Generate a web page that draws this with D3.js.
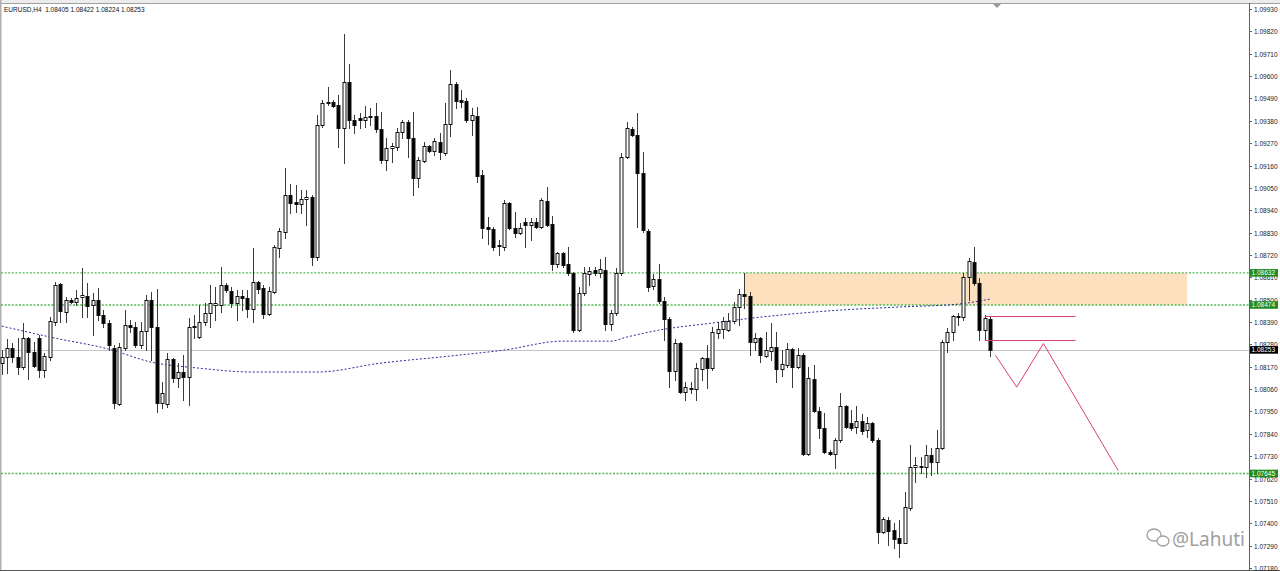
<!DOCTYPE html>
<html><head><meta charset="utf-8">
<script src="https://cdn.jsdelivr.net/npm/d3@7"></script>
<style>html,body{margin:0;padding:0;background:#fff;overflow:hidden}svg{display:block}</style>
</head><body><svg id="c" width="1280" height="571"></svg>
<script>
const title = "EURUSD,H4  1.08405 1.08422 1.08224 1.08253";
const open = [1.08188,1.08218,1.08262,1.08218,1.08169,1.08311,1.08242,1.08311,1.08154,1.08218,
1.08390,1.08576,1.08439,1.08498,1.08488,1.08513,1.08518,1.08473,1.08498,1.08424,
1.08385,1.08262,1.07986,1.08262,1.08375,1.08366,1.08276,1.08345,1.08498,1.08366,
1.07991,1.07986,1.08208,1.08115,1.08144,1.08120,1.08366,1.08316,1.08390,1.08434,
1.08473,1.08473,1.08571,1.08542,1.08483,1.08518,1.08508,1.08454,1.08586,1.08557,
1.08429,1.08537,1.08754,1.08832,1.09014,1.08980,1.08970,1.08995,1.09005,1.08710,
1.09359,1.09467,1.09472,1.09457,1.09345,1.09570,1.09384,1.09394,1.09384,1.09398,
1.09403,1.09340,1.09187,1.09246,1.09251,1.09324,1.09374,1.09295,1.09099,1.09182,
1.09256,1.09231,1.09275,1.09221,1.09364,1.09561,1.09482,1.09477,1.09384,1.09403,
1.09113,1.08857,1.08847,1.08769,1.08759,1.08975,1.08852,1.08828,1.08882,1.08867,
1.08882,1.08857,1.08985,1.08872,1.08675,1.08729,1.08675,1.08631,1.08350,1.08532,
1.08626,1.08646,1.08631,1.08646,1.08380,1.08434,1.08631,1.09202,1.09340,1.09310,
1.09123,1.08837,1.08567,1.08601,1.08493,1.08404,1.08149,1.08286,1.08045,1.08065,
1.08060,1.08159,1.08213,1.08164,1.08335,1.08355,1.08350,1.08395,1.08464,1.08528,
1.08518,1.08291,1.08311,1.08222,1.08247,1.08267,1.08159,1.08178,1.08257,1.08169,
1.08227,1.07740,1.08109,1.07952,1.07868,1.07750,1.07740,1.07809,1.07977,1.07893,
1.07873,1.07903,1.07858,1.07893,1.07809,1.07357,1.07416,1.07366,1.07327,1.07302,
1.07475,1.07676,1.07681,1.07676,1.07735,1.07701,1.07770,1.08291,1.08340,1.08419,
1.08415,1.08611,1.08685,1.08581,1.08350,1.08405];
const high = [1.08252,1.08306,1.08286,1.08311,1.08385,1.08316,1.08291,1.08325,1.08237,1.08415,
1.08586,1.08581,1.08513,1.08508,1.08547,1.08656,1.08581,1.08532,1.08557,1.08449,
1.08400,1.08276,1.08286,1.08449,1.08400,1.08390,1.08390,1.08522,1.08537,1.08552,
1.08094,1.08237,1.08213,1.08188,1.08227,1.08410,1.08424,1.08473,1.08483,1.08571,
1.08562,1.08661,1.08581,1.08562,1.08547,1.08547,1.08547,1.08754,1.08591,1.08571,
1.08562,1.08768,1.08853,1.09148,1.09068,1.09063,1.09039,1.09039,1.09014,1.09408,
1.09482,1.09546,1.09482,1.09506,1.09806,1.09659,1.09408,1.09418,1.09452,1.09443,
1.09467,1.09423,1.09295,1.09270,1.09345,1.09384,1.09384,1.09423,1.09202,1.09275,
1.09261,1.09295,1.09319,1.09467,1.09630,1.09570,1.09531,1.09492,1.09443,1.09447,
1.09138,1.08906,1.08857,1.08793,1.08990,1.08980,1.08931,1.08877,1.08901,1.08901,
1.08901,1.09000,1.09054,1.08911,1.08734,1.08734,1.08759,1.08636,1.08562,1.08661,
1.08661,1.08661,1.08700,1.08710,1.08449,1.08656,1.09221,1.09374,1.09349,1.09418,
1.09226,1.08847,1.08626,1.08675,1.08513,1.08415,1.08306,1.08291,1.08094,1.08094,
1.08188,1.08218,1.08276,1.08366,1.08390,1.08415,1.08434,1.08488,1.08552,1.08631,
1.08537,1.08335,1.08316,1.08340,1.08385,1.08340,1.08252,1.08286,1.08262,1.08262,
1.08237,1.08168,1.08178,1.07972,1.07942,1.07760,1.07819,1.08040,1.07981,1.07957,
1.07977,1.07937,1.07922,1.07898,1.07819,1.07430,1.07430,1.07401,1.07416,1.07553,
1.07785,1.07726,1.07726,1.07785,1.07770,1.07858,1.08301,1.08360,1.08424,1.08434,
1.08631,1.08705,1.08759,1.08606,1.08424,1.08422];
const low = [1.08134,1.08139,1.08193,1.08134,1.08159,1.08110,1.08169,1.08120,1.08120,1.08203,
1.08375,1.08390,1.08390,1.08483,1.08473,1.08415,1.08415,1.08325,1.08400,1.08366,
1.08252,1.07967,1.07981,1.08252,1.08340,1.08267,1.08262,1.08252,1.08203,1.07947,
1.07967,1.07972,1.08094,1.08070,1.08006,1.07981,1.08311,1.08311,1.08375,1.08366,
1.08400,1.08439,1.08537,1.08464,1.08400,1.08449,1.08415,1.08390,1.08532,1.08410,
1.08424,1.08532,1.08710,1.08803,1.08926,1.08931,1.08926,1.08867,1.08670,1.08695,
1.09349,1.09457,1.09447,1.09251,1.09172,1.09345,1.09319,1.09345,1.09349,1.09359,
1.09324,1.09172,1.09138,1.09177,1.09236,1.09295,1.09202,1.09014,1.09054,1.09177,
1.09226,1.09211,1.09192,1.09211,1.09305,1.09443,1.09447,1.09374,1.09310,1.09079,
1.08803,1.08773,1.08744,1.08719,1.08744,1.08847,1.08808,1.08823,1.08759,1.08793,
1.08852,1.08852,1.08862,1.08646,1.08661,1.08661,1.08621,1.08340,1.08345,1.08522,
1.08571,1.08621,1.08611,1.08350,1.08350,1.08424,1.08621,1.09197,1.09305,1.08857,
1.08832,1.08542,1.08552,1.08483,1.08301,1.08070,1.08104,1.08040,1.08006,1.08040,
1.08006,1.08104,1.08065,1.08154,1.08311,1.08311,1.08345,1.08385,1.08375,1.08459,
1.08227,1.08252,1.08193,1.08218,1.08203,1.08094,1.08124,1.08169,1.08070,1.08164,
1.07735,1.07735,1.07947,1.07819,1.07745,1.07735,1.07671,1.07799,1.07868,1.07858,
1.07844,1.07839,1.07824,1.07799,1.07302,1.07352,1.07293,1.07278,1.07234,1.07302,
1.07465,1.07603,1.07647,1.07627,1.07637,1.07647,1.07765,1.08242,1.08301,1.08375,
1.08400,1.08498,1.08571,1.08301,1.08301,1.08224];
const close = [1.08218,1.08262,1.08218,1.08169,1.08311,1.08242,1.08173,1.08154,1.08222,1.08395,
1.08571,1.08444,1.08498,1.08488,1.08508,1.08522,1.08468,1.08498,1.08424,1.08385,
1.08276,1.07991,1.08267,1.08375,1.08366,1.08276,1.08345,1.08498,1.08366,1.07991,
1.08040,1.08208,1.08115,1.08144,1.08120,1.08366,1.08370,1.08390,1.08434,1.08483,
1.08483,1.08571,1.08547,1.08483,1.08518,1.08508,1.08454,1.08586,1.08552,1.08429,
1.08542,1.08759,1.08837,1.09014,1.08975,1.08970,1.08995,1.09005,1.08710,1.09359,
1.09467,1.09472,1.09452,1.09345,1.09570,1.09384,1.09359,1.09384,1.09398,1.09403,
1.09340,1.09187,1.09246,1.09256,1.09324,1.09374,1.09295,1.09099,1.09187,1.09256,
1.09231,1.09280,1.09226,1.09364,1.09561,1.09477,1.09472,1.09384,1.09408,1.09108,
1.08852,1.08847,1.08759,1.08764,1.08975,1.08852,1.08828,1.08852,1.08867,1.08882,
1.08857,1.08990,1.08867,1.08675,1.08729,1.08670,1.08631,1.08350,1.08532,1.08631,
1.08641,1.08631,1.08651,1.08380,1.08434,1.08631,1.09202,1.09345,1.09310,1.09123,
1.08842,1.08562,1.08601,1.08493,1.08404,1.08149,1.08286,1.08045,1.08070,1.08060,
1.08164,1.08213,1.08164,1.08340,1.08355,1.08395,1.08395,1.08464,1.08528,1.08518,
1.08291,1.08311,1.08227,1.08252,1.08267,1.08159,1.08183,1.08257,1.08169,1.08227,
1.07740,1.08114,1.07952,1.07868,1.07750,1.07740,1.07809,1.07977,1.07873,1.07868,
1.07903,1.07854,1.07893,1.07809,1.07357,1.07421,1.07362,1.07322,1.07302,1.07480,
1.07676,1.07686,1.07676,1.07735,1.07701,1.07770,1.08291,1.08340,1.08419,1.08415,
1.08611,1.08690,1.08581,1.08350,1.08409,1.08253];

// moving average (read at sample bars)
const maIndex = [0,10,20,28,37,47,59,71,84,94,105,114,117,123,133,142,157,168,179,185];
const maValue = [1.08370,1.08311,1.08257,1.08193,1.08163,1.08144,1.08144,1.08188,1.08223,1.08252,
1.08296,1.08296,1.08316,1.08350,1.08385,1.08414,1.08449,1.08464,1.08478,1.08503];

const levels = [1.08632, 1.08474, 1.07645];
const lastPrice = 1.08253;
const axisTicks = [1.09930,1.09820,1.09710,1.09600,1.09490,1.09380,1.09270,1.09160,1.09050,1.08940,
1.08830,1.08720,1.08610,1.08500,1.08390,1.08280,1.08170,1.08060,1.07950,1.07840,1.07730,1.07620,
1.07510,1.07400,1.07290,1.07180];

const zoneIndex = [139, 222];
const zonePrice = [1.08474, 1.08632];
const redLineIndex = [184, 201];
const redLinePrice = [1.08422, 1.08301];
const zigIndex = [186, 190, 195, 209];
const zigPrice = [1.08227, 1.08070, 1.08284, 1.07659];

const svg = d3.select("#c");
const W = 1280, H = 571;
const plotRight = 1249;

const x = d3.scaleLinear().domain([0, 185]).range([1.7, 990]);
const y = d3.scaleLinear().domain([1.07180, 1.09930]).range([568, 9]);
const px = i => Math.round(x(i)) + 0.5;
const py = v => Math.round(y(v)) + 0.5;

// frame
svg.append("rect").attr("x",0).attr("y",0).attr("width",W).attr("height",H).attr("fill","#fff");
svg.append("rect").attr("x",0).attr("y",0).attr("width",W).attr("height",3).attr("fill","#ececec");
svg.append("line").attr("x1",0).attr("x2",W).attr("y1",3.5).attr("y2",3.5).attr("stroke","#a0a0a0");
svg.append("rect").attr("x",0).attr("y",0).attr("width",1.5).attr("height",H).attr("fill","#b0b0b0");
svg.append("line").attr("x1",0).attr("x2",W).attr("y1",570.5).attr("y2",570.5).attr("stroke","#555");

const plot = svg.append("g");

// zone
plot.append("rect")
  .attr("x", Math.round(x(zoneIndex[0]))).attr("width", Math.round(x(zoneIndex[1]) - x(zoneIndex[0])))
  .attr("y", Math.round(y(zonePrice[1]))).attr("height", Math.round(y(zonePrice[0]) - y(zonePrice[1])))
  .attr("fill", "#fde1bf");

// level lines
levels.forEach(v => {
  plot.append("line").attr("x1",1).attr("x2",plotRight).attr("y1",y(v)).attr("y2",y(v))
    .attr("stroke","#52b852").attr("stroke-dasharray","2,1.6").attr("stroke-width",1.4);
});
plot.append("line").attr("x1",1).attr("x2",plotRight).attr("y1",py(lastPrice)).attr("y2",py(lastPrice))
  .attr("stroke","#c4c4c4").attr("stroke-width",1);

// MA
const maPts = maIndex.map((d,i)=>[x(d), y(maValue[i])]);
plot.append("path").attr("d", d3.line().curve(d3.curveMonotoneX)(maPts))
  .attr("fill","none").attr("stroke","#2a2a9a").attr("stroke-width",1).attr("stroke-dasharray","2,2");

// candles
const idx = d3.range(open.length);
const cg = plot.append("g");
idx.forEach(i => {
  const cx = px(i);
  cg.append("line").attr("x1",cx).attr("x2",cx).attr("y1",Math.round(y(high[i]))).attr("y2",Math.round(y(low[i]))+1)
    .attr("stroke","#3a3a3a").attr("stroke-width",1);
  const yo = Math.round(y(open[i])), yc = Math.round(y(close[i]));
  const top = Math.min(yo,yc), bot = Math.max(yo,yc);
  if (bot - top < 1) {
    cg.append("line").attr("x1",cx-2).attr("x2",cx+2).attr("y1",top+0.5).attr("y2",top+0.5)
      .attr("stroke","#111").attr("stroke-width",1);
  } else {
    const bull = close[i] > open[i];
    cg.append("rect").attr("x",cx-1.5).attr("y",top+0.5).attr("width",3).attr("height",bot-top)
      .attr("fill", bull ? "#fff" : "#000").attr("stroke","#111").attr("stroke-width",1);
  }
});

// red drawings
redLinePrice.forEach(v => {
  plot.append("line").attr("x1",x(redLineIndex[0])).attr("x2",x(redLineIndex[1]))
    .attr("y1",py(v)).attr("y2",py(v)).attr("stroke","#dc3f6a").attr("stroke-width",1);
});
plot.append("path").attr("d", d3.line()(zigIndex.map((d,i)=>[x(d), y(zigPrice[i])])))
  .attr("fill","none").attr("stroke","#dc3f6a").attr("stroke-width",1);

// shift marker
svg.append("path").attr("d","M993,4 L1001,4 L997,8 Z").attr("fill","#999");

// right axis
svg.append("rect").attr("x",plotRight+0.5).attr("y",4).attr("width",W-plotRight).attr("height",566).attr("fill","#fff");
svg.append("line").attr("x1",plotRight+0.5).attr("x2",plotRight+0.5).attr("y1",3).attr("y2",570)
  .attr("stroke","#606060");
const ax = svg.append("g").attr("font-family","Liberation Sans, Arial, sans-serif").attr("font-size","6.5px");
axisTicks.forEach(v => {
  const yy = py(v);
  ax.append("line").attr("x1",plotRight).attr("x2",plotRight+3).attr("y1",yy).attr("y2",yy).attr("stroke","#606060");
  ax.append("text").attr("x",1254).attr("y",yy).attr("dy","0.35em").attr("fill","#222").text(v.toFixed(5));
});
function tag(v, bg) {
  const yy = y(v);
  ax.append("rect").attr("x",1250).attr("y",yy-3.8).attr("width",28).attr("height",7.6).attr("fill",bg);
  ax.append("text").attr("x",1251.5).attr("y",yy).attr("dy","0.35em").attr("fill","#fff").text(v.toFixed(5));
}
levels.forEach(v => tag(v, "#1e8c1e"));
tag(lastPrice, "#000");

// title
svg.append("text").attr("x",4).attr("y",12).attr("font-family","Liberation Sans, Arial, sans-serif")
  .attr("font-size","6.5px").attr("fill","#111").attr("xml:space","preserve").text(title);

// watermark
const wm = svg.append("g").attr("opacity",0.8);
wm.append("ellipse").attr("cx",1154).attr("cy",535).attr("rx",7).attr("ry",6).attr("fill","none").attr("stroke","#888").attr("stroke-width",1.3);
wm.append("ellipse").attr("cx",1163).attr("cy",541).attr("rx",6).attr("ry",5).attr("fill","#fff").attr("stroke","#888").attr("stroke-width",1.3);
wm.append("text").attr("x",1172).attr("y",546).attr("font-family","Noto Sans, sans-serif").attr("font-size","19px")
  .attr("fill","#888").text("@Lahuti");
</script></body></html>
